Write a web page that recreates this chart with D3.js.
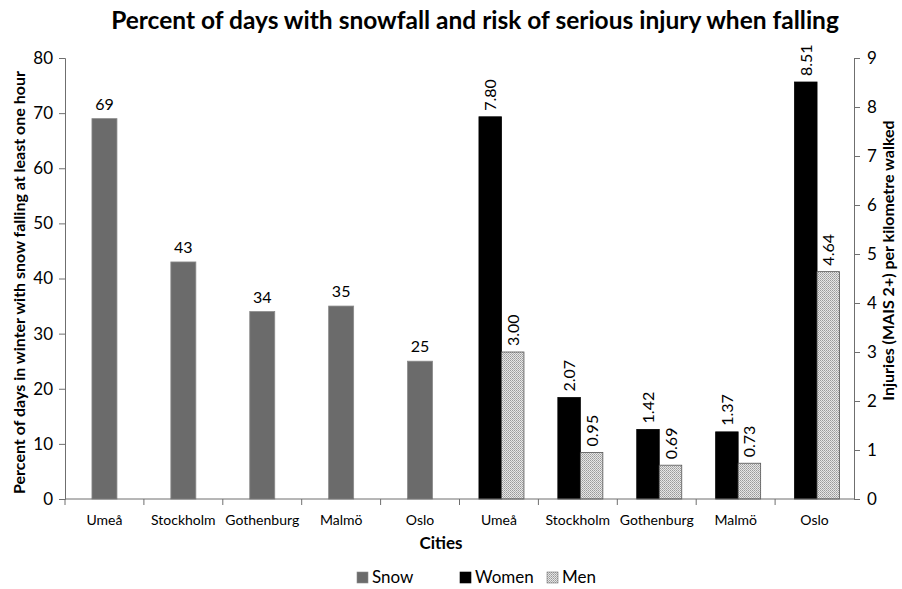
<!DOCTYPE html>
<html>
<head>
<meta charset="utf-8">
<script src="https://cdn.jsdelivr.net/npm/d3@7/dist/d3.min.js"></script>
<style>
  html, body { margin: 0; padding: 0; background: #fff; }
  svg text { font-family: Lato, "Open Sans", sans-serif; fill: #000; }
</style>
</head>
<body>
<svg id="chart" width="902" height="589"></svg>
<script>
// Cities along the x axis: first five for snowfall, last five for injuries
const snowCities = ["Umeå", "Stockholm", "Gothenburg", "Malmö", "Oslo"];
const injuryCities = ["Umeå", "Stockholm", "Gothenburg", "Malmö", "Oslo"];

// Percent of winter days with snow falling at least one hour
const snowValues = [69, 43, 34, 35, 25];
// Injuries (MAIS 2+) per kilometre walked
const womenValues = [7.80, 2.07, 1.42, 1.37, 8.51];
const menValues = [3.00, 0.95, 0.69, 0.73, 4.64];

const leftTicks = [0, 10, 20, 30, 40, 50, 60, 70, 80];
const rightTicks = [0, 1, 2, 3, 4, 5, 6, 7, 8, 9];

const svg = d3.select("#chart");
const margin = { left: 65, right: 48, top: 58, bottom: 90 };
const W = 902, H = 589;
const x0 = margin.left, x1 = W - margin.right;
const yBase = H - margin.bottom, yTop = margin.top;

const slots = [...snowCities.map((c, i) => "s" + i), ...injuryCities.map((c, i) => "i" + i)];
const slotLabels = [...snowCities, ...injuryCities];

const x = d3.scaleBand().domain(slots).range([x0, x1]);
const yLeft = d3.scaleLinear().domain([0, 80]).range([yBase, yTop]);
const yRight = d3.scaleLinear().domain([0, 9]).range([yBase, yTop]);

// Dotted fill for the "Men" series
const defs = svg.append("defs");
const pat = defs.append("pattern").attr("id", "dots")
  .attr("width", 2).attr("height", 2).attr("patternUnits", "userSpaceOnUse");
pat.append("rect").attr("width", 2).attr("height", 2).attr("fill", "#e6e6e6");
pat.append("rect").attr("width", 1).attr("height", 1).attr("fill", "#9a9a9a");
pat.append("rect").attr("x", 1).attr("y", 1).attr("width", 1).attr("height", 1).attr("fill", "#b0b0b0");

// Title
svg.append("text").attr("x", 475).attr("y", 29).attr("text-anchor", "middle")
  .style("font-size", "24.5px").style("font-weight", "bold")
  .text("Percent of days with snowfall and risk of serious injury when falling");

// Snow bars
const snowW = 25;
const snowG = svg.append("g");
snowG.selectAll("rect").data(snowValues).join("rect")
  .attr("x", (d, i) => x("s" + i) + x.bandwidth() / 2 - snowW / 2)
  .attr("y", d => yLeft(d))
  .attr("width", snowW)
  .attr("height", d => yBase - yLeft(d))
  .attr("fill", "#6b6b6b").attr("stroke", "#8a8a8a").attr("stroke-width", 0.8);
snowG.selectAll("text").data(snowValues).join("text")
  .attr("x", (d, i) => x("s" + i) + x.bandwidth() / 2)
  .attr("y", d => yLeft(d) - 9)
  .attr("text-anchor", "middle").style("font-size", "16px")
  .text(d => d);

// Women / Men bars
const pairW = 22.5, pairShift = 2.5;
const injG = svg.append("g");
const pairs = injuryCities.map((c, i) => ({ i, women: womenValues[i], men: menValues[i] }));
pairs.forEach(p => {
  const cx = x("i" + p.i) + x.bandwidth() / 2 + pairShift;
  const specs = [
    { v: p.women, xs: cx - pairW, fill: "#000", stroke: "#000" },
    { v: p.men, xs: cx, fill: "url(#dots)", stroke: "#555" }
  ];
  specs.forEach(s => {
    injG.append("rect")
      .attr("x", s.xs).attr("y", yRight(s.v))
      .attr("width", pairW).attr("height", yBase - yRight(s.v))
      .attr("fill", s.fill).attr("stroke", s.stroke).attr("stroke-width", 0.8);
    const lx = s.xs + pairW / 2 + 6, ly = yRight(s.v) - 6;
    injG.append("text")
      .attr("transform", `translate(${lx},${ly}) rotate(-90)`)
      .attr("text-anchor", "start").style("font-size", "16px")
      .text(s.v.toFixed(2));
  });
});

// Axes
const axisStyle = g => {
  g.selectAll("path, line").attr("stroke", "#6f6f6f");
  g.selectAll("text").style("font-size", "17px").attr("fill", "#222");
};
svg.append("g").attr("transform", `translate(${x0},0)`)
  .call(d3.axisLeft(yLeft).tickValues(leftTicks).tickSize(6).tickSizeOuter(6).tickPadding(6))
  .call(axisStyle);
svg.append("g").attr("transform", `translate(${x1},0)`)
  .call(d3.axisRight(yRight).tickValues(rightTicks).tickSize(6).tickSizeOuter(6).tickPadding(7))
  .call(axisStyle);

// X axis: baseline with ticks at category boundaries
const xAxisG = svg.append("g");
xAxisG.append("line").attr("x1", x0).attr("x2", x1).attr("y1", yBase).attr("y2", yBase)
  .attr("stroke", "#6f6f6f");
xAxisG.selectAll("line.tk").data(slots).join("line").attr("class", "tk")
  .attr("x1", d => x(d)).attr("x2", d => x(d))
  .attr("y1", yBase).attr("y2", yBase + 6).attr("stroke", "#6f6f6f");
xAxisG.selectAll("text").data(slots).join("text")
  .attr("x", d => x(d) + x.bandwidth() / 2)
  .attr("y", yBase + 26)
  .attr("text-anchor", "middle").style("font-size", "14px").attr("fill", "#222")
  .text((d, i) => slotLabels[i]);

// Axis titles
svg.append("text").attr("x", 441).attr("y", 549).attr("text-anchor", "middle")
  .style("font-size", "17px").style("font-weight", "bold").text("Cities");
svg.append("text")
  .attr("transform", `translate(25,${(yBase + yTop) / 2 + 4}) rotate(-90)`)
  .attr("text-anchor", "middle").style("font-size", "16px").style("font-weight", "bold")
  .text("Percent of days in winter with snow falling at least one hour");
svg.append("text")
  .attr("transform", `translate(894,${(yBase + yTop) / 2 - 18}) rotate(-90)`)
  .attr("text-anchor", "middle").style("font-size", "16px").style("font-weight", "bold")
  .text("Injuries (MAIS 2+) per kilometre walked");

// Legend
const legend = [
  { name: "Snow", fill: "#6b6b6b", stroke: "#8a8a8a" },
  { name: "Women", fill: "#000", stroke: "#000" },
  { name: "Men", fill: "url(#dots)", stroke: "#777" }
];
const lg = svg.append("g").attr("transform", "translate(357,572)");
const offs = [0, 103, 190];
legend.forEach((d, i) => {
  const g = lg.append("g").attr("transform", `translate(${offs[i]},0)`);
  g.append("rect").attr("width", 11).attr("height", 11).attr("fill", d.fill).attr("stroke", d.stroke).attr("stroke-width", 0.6);
  g.append("text").attr("x", 15).attr("y", 11).style("font-size", "17px").text(d.name);
});
</script>
</body>
</html>
